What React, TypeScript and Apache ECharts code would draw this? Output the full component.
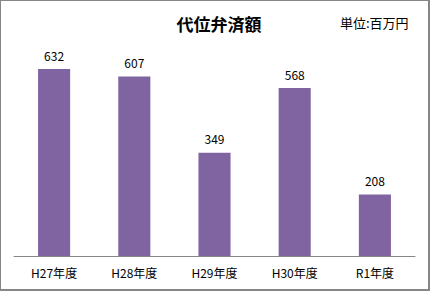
import React, { useEffect, useRef } from "react";
import * as echarts from "echarts";

const categories = ["H27年度", "H28年度", "H29年度", "H30年度", "R1年度"];
const values = [632, 607, 349, 568, 208];
const titleText = "代位弁済額";
const unitText = "単位:百万円";

const FONT = "'Noto Sans CJK JP', 'Noto Sans', sans-serif";

export default function App() {
  const ref = useRef<HTMLDivElement>(null);
  useEffect(() => {
    document.body.style.margin = "0";
    const chart = echarts.init(ref.current!, null, { renderer: "svg" });
    chart.setOption({
      animation: false,
      backgroundColor: "#ffffff",
      title: {
        text: titleText,
        left: 213,
        top: 9,
        textAlign: "center",
        textStyle: { fontFamily: FONT, fontSize: 17, fontWeight: "bold", color: "#000" },
      },
      graphic: [
        {
          type: "text",
          left: 339,
          top: 15,
          style: { text: unitText, fontFamily: FONT, fontSize: 13, fill: "#000" },
        },
      ],
      grid: { left: 13, right: 13, top: 48, bottom: 33, containLabel: false },
      xAxis: {
        type: "category",
        data: categories,
        axisLine: { lineStyle: { color: "#868686", width: 1 } },
        axisTick: { show: false },
        axisLabel: { fontFamily: FONT, fontSize: 12, color: "#000", margin: 10 },
      },
      yAxis: {
        type: "value",
        min: 0,
        max: 700,
        interval: 100,
        show: false,
        splitLine: { show: false },
      },
      series: [
        {
          type: "bar",
          data: values,
          barWidth: "40%",
          itemStyle: { color: "#8064A2" },
          label: {
            show: true,
            position: "top",
            distance: 8,
            fontFamily: FONT,
            fontSize: 12,
            color: "#000",
          },
        },
      ],
    });
    return () => chart.dispose();
  }, []);
  return (
    <div
      style={{
        position: "absolute",
        left: 0,
        top: 0,
        width: 430,
        height: 291,
        boxSizing: "border-box",
        borderLeft: "1px solid #868686",
        borderTop: "1px solid #868686",
        borderRight: "2px solid #868686",
        borderBottom: "2px solid #868686",
        background: "#fff",
      }}
    >
      <div ref={ref} style={{ width: 427, height: 288 }} />
    </div>
  );
}
